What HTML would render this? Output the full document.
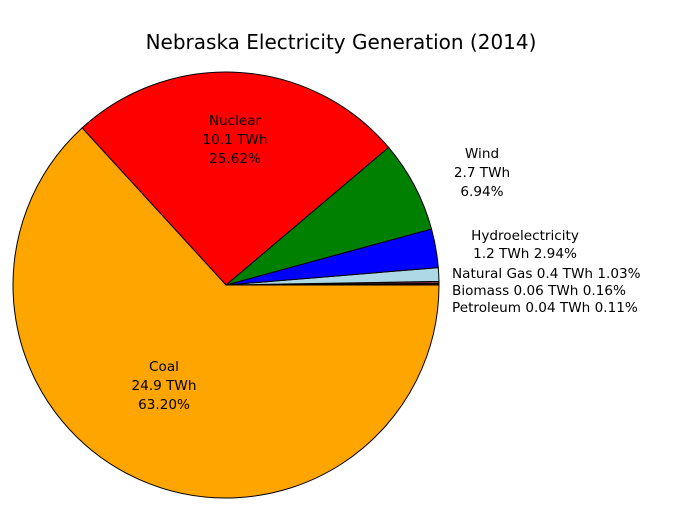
<!DOCTYPE html>
<html><head><meta charset="utf-8"><style>body{margin:0;background:#fff}svg{display:block}text{font-family:"DejaVu Sans","Liberation Sans",sans-serif;fill:#000}</style></head><body>
<svg width="683" height="512" viewBox="0 0 683 512">
<g stroke="#000" stroke-width="1">
<path d="M226,285 L439,285 A213,213 0 0,0 439,283.53 Z" fill="#3b1a1a"/>
<path d="M226,285 L439,283.53 A213,213 0 0,0 438.97,281.39 Z" fill="#7a2a4a"/>
<path d="M226,285 L438.97,281.39 A213,213 0 0,0 438.29,267.62 Z" fill="#add8e6"/>
<path d="M226,285 L438.29,267.62 A213,213 0 0,0 431.49,228.94 Z" fill="#0000ff"/>
<path d="M226,285 L431.49,228.94 A213,213 0 0,0 388.54,147.37 Z" fill="#008000"/>
<path d="M226,285 L388.54,147.37 A213,213 0 0,0 82.13,127.93 Z" fill="#ff0000"/>
<path d="M226,285 L82.13,127.93 A213,213 0 1,0 439,285 Z" fill="#ffa500"/>
</g>
<text x="341" y="49" font-size="20" text-anchor="middle">Nebraska Electricity Generation (2014)</text>
<g font-size="13.6" text-anchor="middle">
<text x="235" y="125">Nuclear</text><text x="235" y="144">10.1 TWh</text><text x="235" y="163">25.62%</text>
<text x="482" y="158">Wind</text><text x="482" y="177">2.7 TWh</text><text x="482" y="196">6.94%</text>
<text x="525" y="240">Hydroelectricity</text><text x="525" y="258">1.2 TWh 2.94%</text>
<text x="164" y="371">Coal</text><text x="164" y="390">24.9 TWh</text><text x="164" y="409">63.20%</text>
</g>
<g font-size="13.6">
<text x="452" y="278">Natural Gas 0.4 TWh 1.03%</text>
<text x="452" y="295">Biomass 0.06 TWh 0.16%</text>
<text x="452" y="312">Petroleum 0.04 TWh 0.11%</text>
</g>
</svg>
</body></html>
